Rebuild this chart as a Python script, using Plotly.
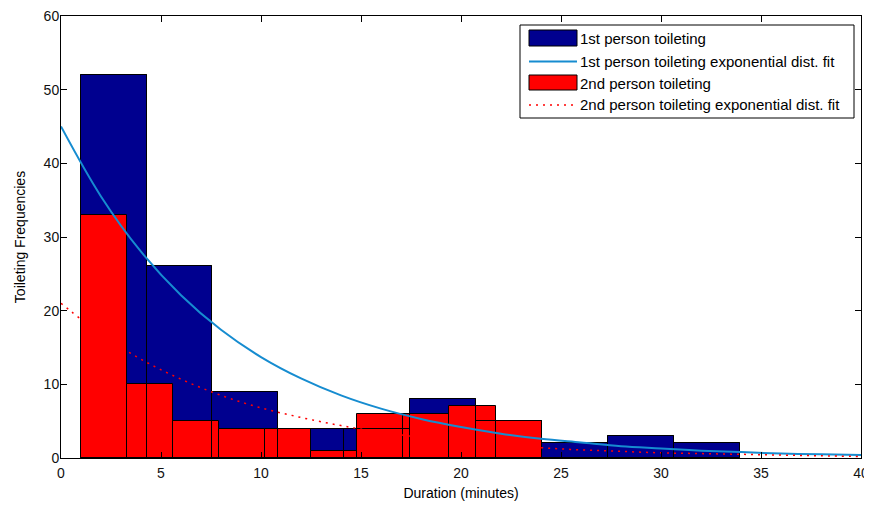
import plotly.graph_objects as go

# ---- data ----
blue_edges = [0.98, 4.28, 7.57, 10.87, 14.17, 17.46, 20.76, 24.06, 27.35, 30.65, 33.95]
blue_counts = [52, 26, 9, 4, 4, 8, 5, 2, 3, 2]

red_edges = [0.98, 3.29, 5.59, 7.90, 10.20, 12.51, 14.81, 17.12, 19.42, 21.73, 24.03]
red_counts = [33, 10, 5, 4, 4, 1, 6, 6, 7, 5]

fit_x = [0, 2, 4, 6, 8, 10, 12, 14, 16, 18, 20, 22, 24, 26, 28, 30, 32, 34, 36, 38, 40]
blue_fit = [45, 35.5, 28.0, 22.1, 17.4, 13.7, 10.8, 8.5, 6.7, 5.3, 4.2, 3.3, 2.6, 2.1,
            1.6, 1.3, 1.0, 0.8, 0.6, 0.5, 0.4]
red_fit = [21, 16.8, 13.4, 10.7, 8.5, 6.8, 5.5, 4.4, 3.5, 2.8, 2.2, 1.8, 1.4, 1.1,
           0.9, 0.7, 0.6, 0.5, 0.4, 0.3, 0.2]

legend_labels = ["1st person toileting", "1st person toileting exponential dist. fit",
                 "2nd person toileting", "2nd person toileting exponential dist. fit"]

BLUE = "rgb(0,0,143)"
RED = "rgb(255,0,0)"
LINE_BLUE = "rgb(22,140,208)"
FONT = "Liberation Sans, Arial, sans-serif"


def centers(edges):
    return [(a + b) / 2 for a, b in zip(edges[:-1], edges[1:])]


def widths(edges):
    return [b - a for a, b in zip(edges[:-1], edges[1:])]


fig = go.Figure()
fig.add_trace(go.Bar(x=centers(blue_edges), y=blue_counts, width=widths(blue_edges),
                     marker=dict(color=BLUE, line=dict(color="black", width=1)),
                     name=legend_labels[0], showlegend=False))
fig.add_trace(go.Bar(x=centers(red_edges), y=red_counts, width=widths(red_edges),
                     marker=dict(color=RED, line=dict(color="black", width=1)),
                     name=legend_labels[2], showlegend=False))
# blue outlines rendered on top (as in the reference)
fig.add_trace(go.Bar(x=centers(blue_edges), y=blue_counts, width=widths(blue_edges),
                     marker=dict(color="rgba(0,0,0,0)", line=dict(color="black", width=1)),
                     showlegend=False, hoverinfo="skip"))
fig.add_trace(go.Scatter(x=fit_x, y=blue_fit, mode="lines", line_shape="spline",
                         line=dict(color=LINE_BLUE, width=2), name=legend_labels[1],
                         showlegend=False))
fig.add_trace(go.Scatter(x=fit_x, y=red_fit, mode="lines", line_shape="spline",
                         line=dict(color=RED, width=1.5, dash="2px,5px"),
                         name=legend_labels[3], showlegend=False))

# ---- manual MATLAB-style legend (positions given in screen pixels) ----
L, R, T, B = 61, 861, 16, 458


def px(p):
    return (p - L) / (R - L)


def py(p):
    return (B - p) / (B - T)


shapes = [
    dict(type="rect", xref="paper", yref="paper", x0=px(520), x1=px(854), y0=py(118), y1=py(25),
         fillcolor="white", line=dict(color="black", width=1)),
    dict(type="rect", xref="paper", yref="paper", x0=px(529), x1=px(577), y0=py(46), y1=py(30),
         fillcolor=BLUE, line=dict(color="black", width=1)),
    dict(type="line", xref="paper", yref="paper", x0=px(529), x1=px(577), y0=py(61.5), y1=py(61.5),
         line=dict(color=LINE_BLUE, width=2)),
    dict(type="rect", xref="paper", yref="paper", x0=px(529), x1=px(577), y0=py(90), y1=py(75),
         fillcolor=RED, line=dict(color="black", width=1)),
    dict(type="line", xref="paper", yref="paper", x0=px(529), x1=px(577), y0=py(105), y1=py(105),
         line=dict(color=RED, width=1.5, dash="2px,5px")),
]
annotations = []
for lab, yc in zip(legend_labels, [38.5, 61.5, 83, 105]):
    annotations.append(dict(xref="paper", yref="paper", x=px(578), y=py(yc), text=lab,
                            showarrow=False, xanchor="left", yanchor="middle",
                            font=dict(family=FONT, size=15, color="black")))

axis_common = dict(showline=True, linecolor="black", linewidth=1, mirror="ticks",
                   ticks="inside", ticklen=6, tickcolor="black", showgrid=False,
                   zeroline=False, ticklabeloverflow="allow",
                   tickfont=dict(family=FONT, size=14, color="#111111"))

# the page body has an 8px margin, so the figure is offset by 8px
fig.update_layout(
    width=864, height=497,
    margin=dict(l=53, r=11, t=8, b=47),
    paper_bgcolor="white", plot_bgcolor="white",
    barmode="overlay", bargap=0,
    shapes=shapes, annotations=annotations,
    xaxis=dict(range=[0, 40], tickvals=[0, 5, 10, 15, 20, 25, 30, 35, 40],
               title=dict(text="Duration (minutes)", standoff=8,
                          font=dict(family=FONT, size=14, color="black")),
               automargin=False, ticklabelstandoff=2, **axis_common),
    yaxis=dict(range=[0, 60], tickvals=[0, 10, 20, 30, 40, 50, 60],
               title=dict(text="Toileting Frequencies", standoff=14,
                          font=dict(family=FONT, size=14, color="black")),
               automargin=False, ticklabelstandoff=-2, **axis_common),
    showlegend=False,
)

fig.write_html("out.html")
